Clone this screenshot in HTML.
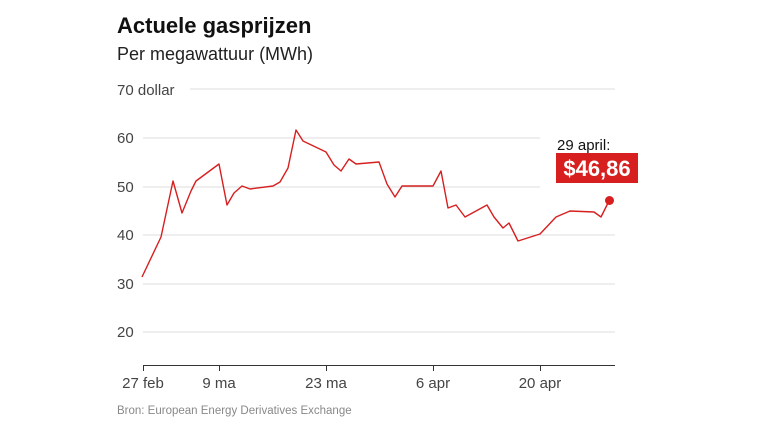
<!DOCTYPE html>
<html><head><meta charset="utf-8"><style>
body{margin:0;background:#fff;width:768px;height:432px;overflow:hidden;font-family:"Liberation Sans",sans-serif}
</style></head><body>
<svg width="768" height="432" xmlns="http://www.w3.org/2000/svg" font-family="Liberation Sans, sans-serif">
<text x="117" y="33" font-size="22" font-weight="bold" fill="#111">Actuele gasprijzen</text>
<text x="117" y="60" font-size="18" fill="#222">Per megawattuur (MWh)</text>
<g stroke="#ddd" stroke-width="1">
<line x1="190" y1="89" x2="615" y2="89"/>
<line x1="143" y1="138" x2="540" y2="138"/>
<line x1="143" y1="187" x2="540" y2="187"/>
<line x1="143" y1="235" x2="615" y2="235"/>
<line x1="143" y1="284" x2="615" y2="284"/>
<line x1="143" y1="332" x2="615" y2="332"/>
</g>
<line x1="143" y1="365.5" x2="615" y2="365.5" stroke="#333" stroke-width="1"/>
<g stroke="#333"><line x1="143.5" y1="365" x2="143.5" y2="371"/><line x1="219.5" y1="365" x2="219.5" y2="371"/><line x1="326.5" y1="365" x2="326.5" y2="371"/><line x1="433.5" y1="365" x2="433.5" y2="371"/><line x1="540.5" y1="365" x2="540.5" y2="371"/></g>
<g font-size="15" fill="#444">
<text x="117" y="95">70 dollar</text>
<text x="117" y="143">60</text>
<text x="117" y="192">50</text>
<text x="117" y="240">40</text>
<text x="117" y="289">30</text>
<text x="117" y="337">20</text>
<text x="143" y="388" text-anchor="middle">27 feb</text>
<text x="219" y="388" text-anchor="middle">9 ma</text>
<text x="326" y="388" text-anchor="middle">23 ma</text>
<text x="433" y="388" text-anchor="middle">6 apr</text>
<text x="540" y="388" text-anchor="middle">20 apr</text>
</g>
<polyline fill="none" stroke="#d71f1f" stroke-width="1.4" stroke-linejoin="round" points="142,277 161,237 173,181 182,213 191,191 196,181 219,164 227,205 234,193 242,186 250,189 273,186 280,182 288,168 296,130 303,141 326,152 334,165 341,171 349,159 356,164 379,162 387,184 395,197 402,186 433,186 441,171 448,208 456,205 465,217 487,205 494,217 503,228 509,223 518,241 540,234 556,217 570,211 594,212 601,217 609,201"/>
<circle cx="609.5" cy="200.5" r="4.5" fill="#d71f1f"/>
<text x="557" y="150" font-size="15" fill="#111">29 april:</text>
<rect x="556" y="153" width="82" height="30" fill="#d71f1f"/>
<text x="597" y="176" font-size="22" font-weight="bold" fill="#fff" text-anchor="middle">$46,86</text>
<text x="117" y="414" font-size="11.5" fill="#888">Bron: European Energy Derivatives Exchange</text>
</svg>
</body></html>
